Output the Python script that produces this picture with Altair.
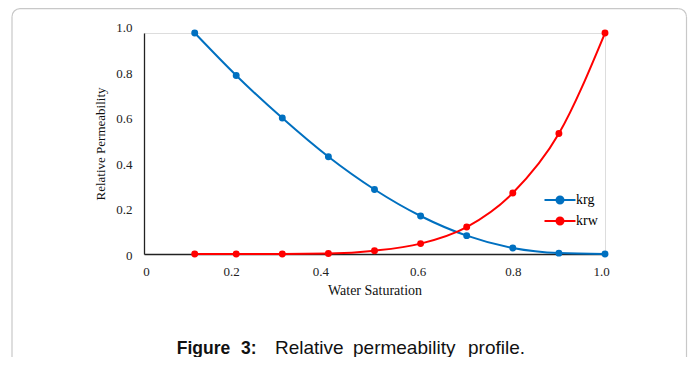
import altair as alt
import pandas as pd

# ---------------- data ----------------
sw = [0.11, 0.2, 0.3, 0.4, 0.5, 0.6, 0.7, 0.8, 0.9, 1.0]
krg = [1.0, 0.808, 0.615, 0.44, 0.292, 0.172, 0.083, 0.027, 0.004, 0.0]
krw = [0.0, 0.0, 0.0, 0.002, 0.015, 0.047, 0.122, 0.276, 0.545, 1.0]
series_names = ["krg", "krw"]
series_colors = ["#0070C0", "#FF0000"]
x_ticks = [0, 0.2, 0.4, 0.6, 0.8, 1.0]
y_ticks = [0, 0.2, 0.4, 0.6, 0.8, 1.0]
x_title = "Water Saturation"
y_title = "Relative Permeability"
caption_words = ["Figure", "3:", "Relative", "permeability", "profile."]
caption_bold = [True, True, False, False, False]

rows = []
for name, vals in zip(series_names, [krg, krw]):
    for s, v in zip(sw, vals):
        rows.append({"Sw": s, "kr": v, "series": name})
df = pd.DataFrame(rows)

# ---------------- layout ----------------
W, H = 461, 221
PAD = {"left": 136, "top": 25, "right": 83, "bottom": 103}
SERIF = "Liberation Serif"
SANS = "Liberation Sans"
caption_x = [32.7, 97, 131, 209, 324]
caption_y = 321
LEG_PATH = "M-1.55,0L1.55,0M-0.35,0A0.35,0.35,0,1,0,0.35,0A0.35,0.35,0,1,0,-0.35,0Z"

fmt = "datum.value == 0 ? '0' : format(datum.value, '.1f')"

# small per-label nudges seen in the reference rendering
x_label_nudge = {"condition": [
    {"test": "datum.value == 0", "value": 2},
    {"test": "abs(datum.value - 0.2) < 0.01", "value": -5},
    {"test": "abs(datum.value - 0.4) < 0.01", "value": -8},
    {"test": "abs(datum.value - 0.6) < 0.01", "value": -3},
    {"test": "abs(datum.value - 1.0) < 0.01", "value": -4},
], "value": 0}
y_label_nudge = {"condition": [
    {"test": "abs(datum.value - 1.0) < 0.01", "value": -5.5},
    {"test": "abs(datum.value - 0.8) < 0.01", "value": -4},
    {"test": "abs(datum.value - 0.6) < 0.01", "value": -3},
    {"test": "abs(datum.value - 0.4) < 0.01", "value": -1.5},
    {"test": "datum.value == 0", "value": 1},
], "value": 0}

x_enc = alt.X(
    "Sw:Q",
    scale=alt.Scale(domain=[0, 1], nice=False, zero=False),
    axis=alt.Axis(
        values=x_ticks, labelExpr=fmt, title=x_title, grid=False, ticks=False,
        tickSize=0, labelPadding=11, labelFont=SERIF, labelFontSize=13,
        labelColor="#222", titleFont=SERIF, titleFontSize=14,
        titleFontWeight="normal", titleColor="#111", titleBaseline="middle",
        titleY=36, domainColor="#222", domainWidth=1.3, labelFlush=False,
        labelOffset=x_label_nudge,
    ),
)
y_enc = alt.Y(
    "kr:Q",
    scale=alt.Scale(domain=[0, 1], nice=False),
    axis=alt.Axis(
        values=y_ticks, labelExpr=fmt, title=y_title, grid=False, ticks=False,
        tickSize=0, labelPadding=12, labelFont=SERIF, labelFontSize=13,
        labelColor="#222", titleFont=SERIF, titleFontSize=13,
        titleFontWeight="normal", titleColor="#111", titleBaseline="middle",
        titleX=-44, titleAngle=270, domainColor="#222", domainWidth=1.3,
        labelFlush=False, labelOffset=y_label_nudge,
    ),
)

color_scale = alt.Scale(domain=series_names, range=series_colors)
legend = alt.Legend(
    title=None, orient="none", legendX=405, legendY=156,
    symbolType=LEG_PATH, symbolSize=400, symbolStrokeWidth=2,
    labelFont=SERIF, labelFontSize=14, labelColor="#000",
    labelOffset=5, rowPadding=2, padding=0,
)

base = alt.Chart(df).encode(x=x_enc, y=y_enc)
lines = base.mark_line(interpolate="monotone", strokeWidth=2).encode(
    stroke=alt.Stroke("series:N", scale=color_scale, legend=legend)
)
points = base.mark_point(filled=True, size=48, opacity=1, strokeWidth=0).encode(
    fill=alt.Fill("series:N", scale=color_scale, legend=legend)
)

one = pd.DataFrame({"a": [0]})
# outer light frame: left, top (with rounded corners) and right edges only
frame_sides = alt.Chart(one).mark_rule(stroke="#c8c8c8", strokeWidth=1.2).encode(
    x=alt.value(-132), y=alt.value(-16.3), y2=alt.value(324)
)
frame_right = alt.Chart(one).mark_rule(stroke="#c8c8c8", strokeWidth=1.2).encode(
    x=alt.value(542.5), y=alt.value(-16.3), y2=alt.value(324)
)
frame_top = alt.Chart(one).mark_rule(stroke="#c8c8c8", strokeWidth=1.2).encode(
    x=alt.value(-124), x2=alt.value(534.5), y=alt.value(-24.3)
)
corners = alt.Chart(one).mark_arc(
    stroke="#c8c8c8", strokeWidth=1.2, fillOpacity=0, radius=8, radius2=8
)
corner_l = corners.encode(
    x=alt.value(-124), y=alt.value(-16.3),
    theta=alt.value(4.712389), theta2=alt.value(6.2831853),
)
corner_r = corners.encode(
    x=alt.value(534.5), y=alt.value(-16.3),
    theta=alt.value(0), theta2=alt.value(1.5707963),
)

caption = []
for word, bold, cx in zip(caption_words, caption_bold, caption_x):
    caption.append(
        alt.Chart(one).mark_text(
            text=word, align="left", baseline="alphabetic", font=SANS,
            fontSize=17.5 if bold else 19, fontWeight="bold" if bold else "normal",
            color="#111",
        ).encode(x=alt.value(cx), y=alt.value(caption_y))
    )

chart = alt.layer(
    frame_sides, frame_right, frame_top, corner_l, corner_r, lines, points, *caption
).properties(
    width=W, height=H,
    autosize=alt.AutoSizeParams(type="none"),
    padding=PAD,
).configure_view(stroke="#454545", strokeWidth=1.5).configure(background="white")

chart.save("out.html", embed_options={"renderer": "svg", "actions": False})
